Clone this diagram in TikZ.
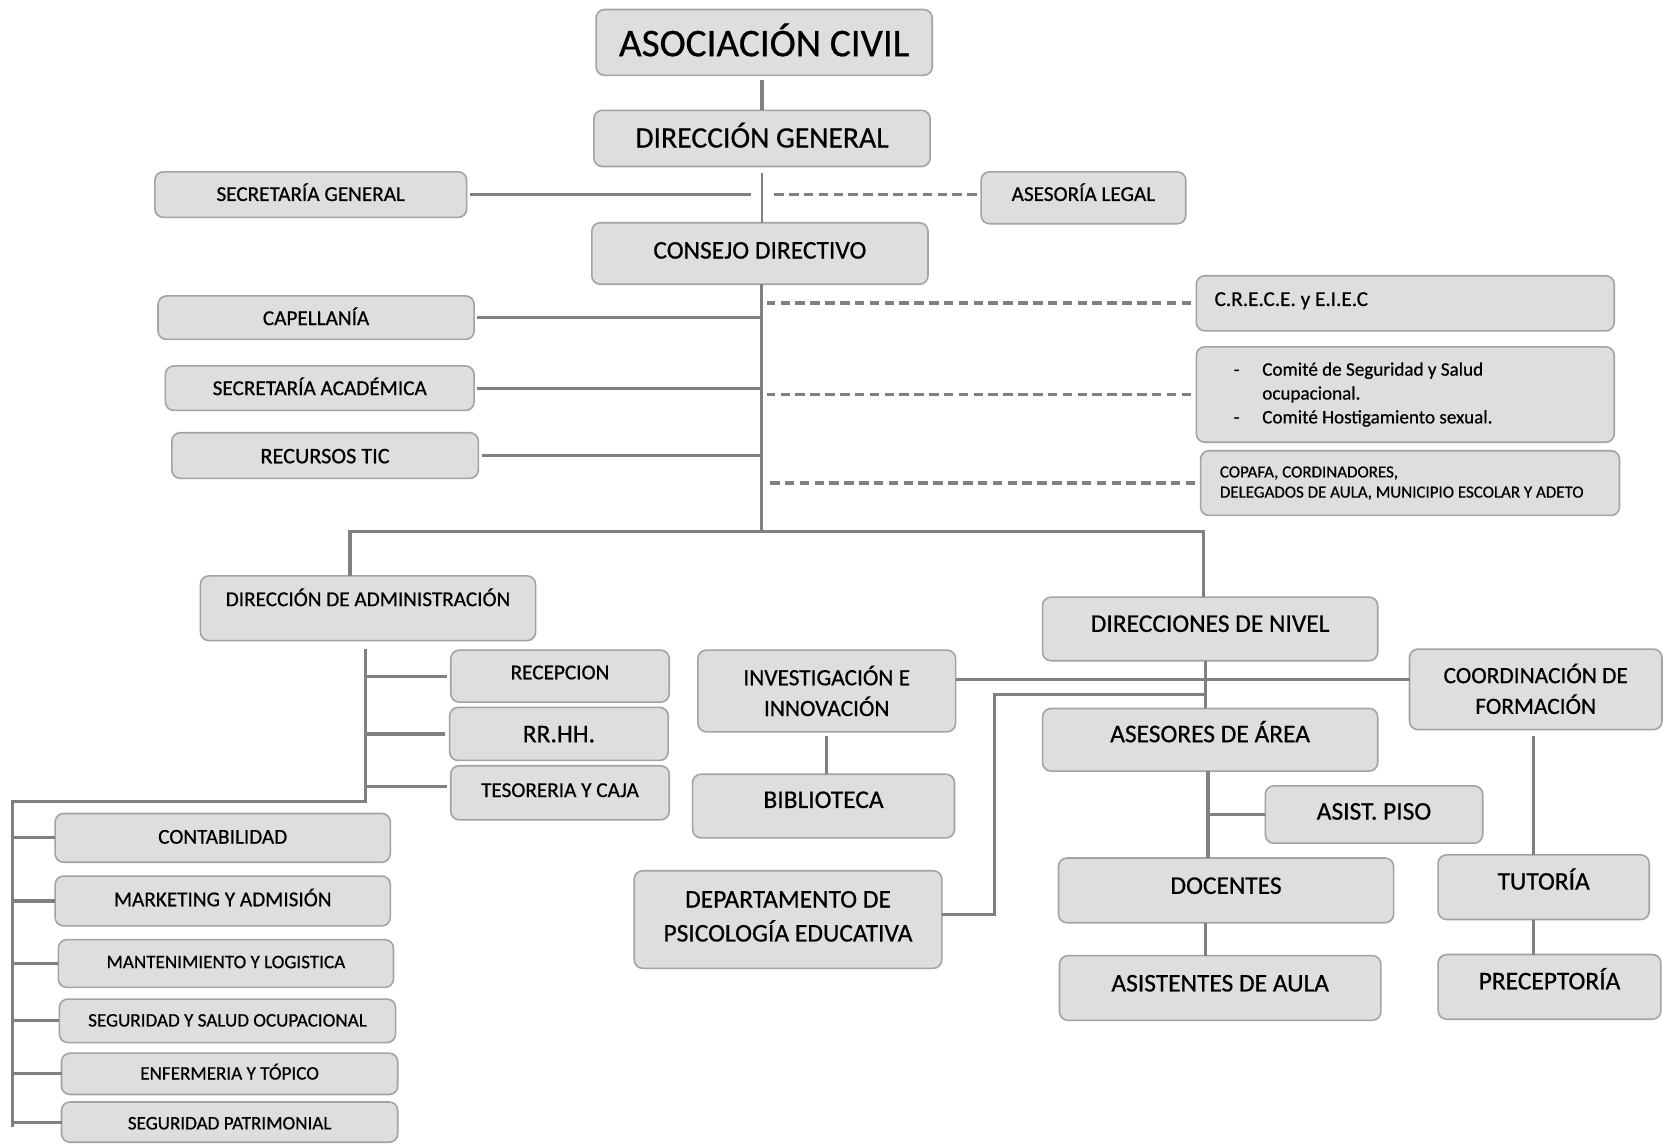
\documentclass[tikz,border=0pt]{standalone}
\usepackage{fontspec}
\setmainfont{Carlito}[FakeBold=0.6]
\usetikzlibrary{calc}
\definecolor{boxfill}{HTML}{DEDEDE}
\definecolor{boxdraw}{HTML}{A3A3A3}
\definecolor{linec}{HTML}{808080}
\tikzset{
 obox/.style={draw=boxdraw, fill=boxfill, line width=1.5pt, rounded corners=8pt, inner sep=0pt, outer sep=0pt},
 otext/.style={inner sep=0pt, text=black},
 conn/.style={draw=linec, line width=3pt},
 thinconn/.style={draw=linec, line width=2pt},
 dconn/.style={draw=linec, line width=3.5pt, dash pattern=on 9pt off 5pt},
}
\newcommand\ob[8]{%
 \node[obox, minimum width={#4-#2}, minimum height={#5-#3}] (#1) at ({(#2+#4)/2},{(#3+#5)/2}) {};
 \node[otext, font={\fontsize{#7}{#7}\selectfont}, text height={0.65*#7}, text depth=0pt] (#1t) at ({(#2+#4)/2},#6) {#8};}
\newcommand\obm[9]{%
 \node[obox, minimum width={#4-#2}, minimum height={#5-#3}] (#1) at ({(#2+#4)/2},{(#3+#5)/2}) {};
 \node[otext, align=center, font={\fontsize{#7}{#8}\selectfont}] (#1t) at ({(#2+#4)/2},#6) {#9};}
\begin{document}
\begin{tikzpicture}[x=1pt,y=-1pt]
\useasboundingbox[fill=white] (0,0) rectangle (1568,1078);
% boxes
\ob{asoc}{562}{9}{879}{71}{41}{37}{ASOCIACIÓN CIVIL}
\ob{dirgen}{560}{104}{877}{157}{130}{28}{DIRECCIÓN GENERAL}
\ob{secgen}{146}{162}{440}{205}{183}{20}{SECRETARÍA GENERAL}
\ob{aseso}{925}{162}{1118}{211}{183}{20}{ASESORÍA LEGAL}
\ob{consejo}{558}{210}{875}{268}{236}{24}{CONSEJO DIRECTIVO}
\node[obox, minimum width=394, minimum height=52] (crece) at (1325,286) {};
\node[otext, anchor=west, font={\fontsize{20}{20}\selectfont}, text height=13, text depth=0pt] (crecet) at (1145,282) {C.R.E.C.E. y E.I.E.C};
\node[obox, minimum width=394, minimum height=90] (comite) at (1325,372) {};
\node[otext, anchor=west, align=left, font={\fontsize{18}{22.5}\selectfont}] (comitet) at (1163,372) {\makebox[27pt][l]{-}Comité de Seguridad y Salud\\\hspace*{27pt}ocupacional.\\\makebox[27pt][l]{-}Comité Hostigamiento sexual.};
\node[obox, minimum width=395, minimum height=61] (copafa) at (1329.5,455.5) {};
\node[otext, anchor=west, align=left, font={\fontsize{16}{19}\selectfont}] (copafat) at (1150,455.5) {COPAFA, CORDINADORES,\\DELEGADOS DE AULA, MUNICIPIO ESCOLAR Y ADETO};
\ob{capell}{149}{279}{447}{320}{300}{20}{CAPELLANÍA}
\ob{secacad}{156}{345}{447}{387}{366}{20}{SECRETARÍA ACADÉMICA}
\ob{rectic}{162}{408}{451}{451}{430}{21}{RECURSOS TIC}
\ob{diradmin}{189}{543}{505}{604}{565}{20}{DIRECCIÓN DE ADMINISTRACIÓN}
\ob{dirniv}{983}{563}{1299}{623}{588}{24}{DIRECCIONES DE NIVEL}
\ob{recep}{425}{613}{631}{662}{634}{20}{RECEPCION}
\ob{rrhh}{424}{667}{630}{717}{692}{24}{RR.HH.}
\ob{tesor}{425}{722}{631}{773}{745}{20}{TESORERIA Y CAJA}
\obm{invest}{658}{613}{901}{690}{651.5}{22}{29}{INVESTIGACIÓN E\\INNOVACIÓN}
\ob{biblio}{653}{730}{900}{790}{754}{24}{BIBLIOTECA}
\obm{coord}{1329}{612}{1567}{688}{649.5}{22}{29}{COORDINACIÓN DE\\FORMACIÓN}
\ob{asesores}{983}{668}{1299}{727}{692}{24}{ASESORES DE ÁREA}
\ob{asist}{1193}{741}{1398}{795}{765}{24}{ASIST. PISO}
\ob{docentes}{998}{809}{1314}{870}{835}{24}{DOCENTES}
\ob{tutoria}{1356}{806}{1555}{867}{831}{24}{TUTORÍA}
\ob{aula}{999}{901}{1302}{962}{927}{24}{ASISTENTES DE AULA}
\ob{precep}{1356}{900}{1566}{961}{925}{24}{PRECEPTORÍA}
\obm{depto}{598}{821}{888}{913}{864}{24}{32}{DEPARTAMENTO DE\\PSICOLOGÍA EDUCATIVA}
\ob{contab}{52}{767}{368}{813}{789}{20}{CONTABILIDAD}
\ob{mkt}{52}{826}{368}{873}{848}{20}{MARKETING Y ADMISIÓN}
\ob{mant}{55}{886}{371}{931}{907}{18}{MANTENIMIENTO Y LOGISTICA}
\ob{sso}{56}{942}{373}{983}{962}{18}{SEGURIDAD Y SALUD OCUPACIONAL}
\ob{enf}{58}{993}{375}{1032}{1012}{18}{ENFERMERIA Y TÓPICO}
\ob{segpat}{58}{1039}{375}{1077}{1059}{18}{SEGURIDAD PATRIMONIAL}
% junctions
\coordinate (s1) at (718,272);
\coordinate (s2) at (718,501);
\coordinate (bl) at (330,501);
\coordinate (br) at (1135,501);
\coordinate (a1) at (345,612);
\coordinate (a2) at (345,756);
\coordinate (a3) at (12,756);
\coordinate (n0) at (1137,641);
\coordinate (n1) at (1137,655);
\coordinate (n2) at (938,655);
\coordinate (d0) at (1139,760);
\coordinate (c0) at (1446,700);
% connectors
\draw[conn] ($(dirgen.north |- asoc.south)+(0,4)$) -- (dirgen.north);
\draw[thinconn] ($(dirgen.south)+(0,6)$) -- (dirgen.south |- consejo.north);
\draw[conn] ($(secgen.east)+(3,0)$) -- ($(dirgen.south |- secgen.east)+(-10,0)$);
\draw[dconn] ($(aseso.west |- secgen.east)+(-4,0)$) -- ($(dirgen.south |- secgen.east)+(10,0)$);
\draw[thinconn] (consejo.south -| s1) -- (s2);
\foreach \n in {capell,secacad,rectic} \draw[conn] ($(\n.east)+(3,0)$) -- (\n.east -| s1);
\foreach \n in {crece,comite,copafa} \draw[dconn] ($(\n.west)+(-5,0)$) -- ($(\n.west -| s1)+(5,0)$);
\draw[conn] (bl |- diradmin.north) -- (bl) -- (br) -- (br |- dirniv.north);
\draw[conn] (a1) -- (a2) -- (a3) -- ($(a3 |- segpat.west)+(0,5)$);
\foreach \n in {recep,rrhh} \draw[conn] ($(\n.west)+(-4,0)$) -- (\n.west -| a1);
\draw[conn] ($(tesor.west)+(-4,-6)$) -- ($(tesor.west -| a1)+(0,-6)$);
\foreach \n in {contab,mkt,mant,sso,enf,segpat} \draw[conn] (\n.west) -- (\n.west -| a3);
\draw[conn] (dirniv.south -| n0) -- (asesores.north -| n0);
\draw[conn] (invest.east |- n0) -- (coord.west |- n0);
\draw[conn] (n1) -- (n2) |- ($(depto.east)+(0,-5)$);
\draw[conn] (asesores.south -| d0) -- (docentes.north -| d0);
\draw[conn] (asist.west) -- (asist.west -| d0);
\draw[conn] (docentes.south -| n0) -- (aula.north -| n0);
\draw[conn] ($(coord.south -| c0)+(0,6)$) -- (tutoria.north -| c0);
\draw[conn] (tutoria.south -| c0) -- (precep.north -| c0);
\draw[conn] ($(invest.south)+(0,4)$) -- (invest.south |- biblio.north);
\end{tikzpicture}
\end{document}
